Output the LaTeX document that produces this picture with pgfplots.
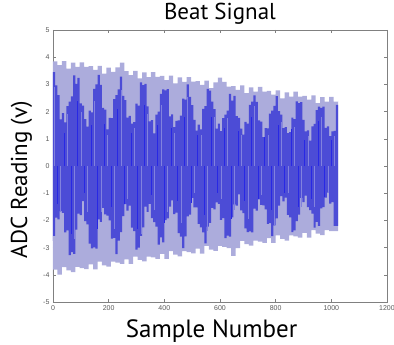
\documentclass[border=0pt]{standalone}
\usepackage{pgfplots}
\pgfplotsset{compat=1.18}
\usepackage{fontspec}
\setmainfont{PT Sans}
\newfontfamily\tickfont{Liberation Sans}
\definecolor{envlight}{RGB}{172,172,220}
\definecolor{sigdark}{RGB}{76,76,214}
\definecolor{stripelight}{RGB}{130,130,222}
\definecolor{stripebright}{RGB}{40,40,228}
\definecolor{framegray}{RGB}{128,128,128}
\begin{document}
\begin{tikzpicture}
\begin{axis}[
  name=ax,
  scale only axis,
  width=334pt, height=272pt,
  xmin=0, xmax=1200, ymin=-5, ymax=5,
  xtick={0,200,400,600,800,1000,1200},
  ytick={-5,-4,-3,-2,-1,0,1,2,3,4,5},
  scaled y ticks=false,
  tick align=inside,
  xtick pos=both, ytick pos=both,
  major tick length=3pt,
  tick style={framegray, line width=0.6pt},
  axis line style={framegray, line width=0.8pt},
  /pgf/number format/assume math mode=true,
  /pgf/number format/1000 sep={},
  ticklabel style={font=\tickfont\fontsize{7}{8}\selectfont, text=black!65},
  title={Beat Signal},
  title style={at={(axis description cs:0.5,1)}, anchor=base, yshift=4pt, font=\fontsize{23}{26}\selectfont},
  xlabel={Sample Number},
  xlabel style={at={(axis description cs:0.475,0)}, anchor=base, yshift=-35pt, font=\fontsize{25}{28}\selectfont},
  ylabel={ADC Reading (v)},
  ylabel style={at={(axis description cs:-0.0778,0.45)}, anchor=base, font=\fontsize{23}{26}\selectfont},
]
% light envelope: upper edge, then lower edge (reversed)
\addplot[const plot, fill=envlight, draw=none] coordinates {
(0,3.85)(16,3.71)(32,3.86)(48,3.58)(64,3.80)(80,3.64)(96,3.81)(112,3.64)(128,3.67)(144,3.53)(160,3.68)(176,3.40)(192,3.62)(208,3.46)(224,3.63)(240,3.80)(256,3.49)(272,3.34)(288,3.50)(304,3.22)(320,3.44)(336,3.27)(352,3.45)(368,3.28)(384,3.31)(400,3.16)(416,3.32)(432,3.04)(448,3.26)(464,3.09)(480,3.27)(496,3.10)(512,3.12)(528,2.98)(544,3.14)(560,2.86)(576,3.07)(592,3.25)(608,3.09)(624,2.92)(640,2.94)(656,2.80)(672,2.96)(688,2.68)(704,2.89)(720,2.73)(736,2.91)(752,2.73)(768,2.76)(784,2.62)(800,2.78)(816,2.49)(832,2.71)(848,2.55)(864,2.73)(880,2.55)(896,2.58)(912,2.44)(928,2.60)(944,2.31)(960,2.53)(976,2.37)(992,2.54)(1008,2.37)(1024,2.40)
(1024,-2.39)(1008,-2.39)(992,-2.36)(976,-2.54)(960,-2.49)(944,-2.36)(928,-2.63)(912,-2.46)(896,-2.63)(880,-2.59)(864,-2.55)(848,-2.74)(832,-2.68)(816,-2.55)(800,-2.83)(784,-2.65)(768,-2.83)(752,-2.78)(736,-2.74)(720,-2.93)(704,-2.87)(688,-2.75)(672,-3.02)(656,-3.30)(640,-3.02)(624,-2.97)(608,-2.94)(592,-3.12)(576,-3.07)(560,-2.94)(544,-3.22)(528,-3.04)(512,-3.21)(496,-3.17)(480,-3.13)(464,-3.32)(448,-3.26)(432,-3.13)(416,-3.41)(400,-3.23)(384,-3.41)(368,-3.36)(352,-3.33)(336,-3.51)(320,-3.45)(304,-3.33)(288,-3.60)(272,-3.43)(256,-3.60)(240,-3.55)(224,-3.52)(208,-3.70)(192,-3.65)(176,-3.52)(160,-3.80)(144,-3.62)(128,-3.79)(112,-3.75)(96,-3.71)(80,-3.90)(64,-3.84)(48,-3.72)(32,-3.99)(16,-3.81)(0,-3.99)
};
% dark beat pattern: upper edge, then lower edge (reversed)
\addplot[const plot, fill=sigdark, draw=none] coordinates {
(0,3.45)(8,2.96)(16,2.61)(24,1.71)(32,1.94)(40,1.60)(48,2.20)(56,2.37)(64,2.56)(72,3.33)(80,3.02)(88,3.24)(96,2.30)(104,2.22)(112,1.72)(120,1.45)(128,2.04)(136,1.97)(144,2.84)(152,3.00)(160,3.35)(168,2.98)(176,2.14)(184,2.07)(192,1.35)(200,1.77)(208,1.76)(216,2.46)(224,2.61)(232,2.82)(240,3.29)(248,2.58)(256,2.42)(264,1.78)(272,1.84)(280,1.56)(288,1.61)(296,2.29)(304,2.22)(312,3.07)(320,2.97)(328,3.02)(336,2.19)(344,1.64)(352,1.69)(360,1.20)(368,1.89)(376,2.00)(384,2.65)(392,2.82)(400,2.78)(408,2.83)(416,1.82)(424,1.90)(432,1.43)(440,1.66)(448,1.68)(456,1.85)(464,2.48)(472,2.44)(480,3.00)(488,2.54)(496,2.24)(504,1.70)(512,1.30)(520,1.52)(528,1.35)(536,2.10)(544,2.20)(552,2.84)(560,2.77)(568,2.37)(576,2.09)(584,1.37)(592,1.56)(600,1.28)(608,1.76)(616,1.89)(624,2.04)(632,2.65)(640,2.40)(648,2.58)(656,1.83)(664,1.77)(672,1.37)(680,1.15)(688,1.62)(696,1.56)(704,2.25)(712,2.37)(720,2.60)(728,2.36)(736,1.68)(744,1.63)(752,1.06)(760,1.39)(768,1.38)(776,1.93)(784,2.04)(792,2.21)(800,2.57)(808,2.02)(816,1.89)(824,1.39)(832,1.43)(840,1.21)(848,1.25)(856,1.78)(864,1.72)(872,2.38)(880,2.31)(888,2.35)(896,1.70)(904,1.27)(912,1.31)(920,0.93)(928,1.46)(936,1.55)(944,2.05)(952,2.18)(960,2.14)(968,2.18)(976,1.40)(984,1.46)(992,1.10)(1000,1.27)(1008,1.29)(1016,2.25)(1024,2.25)
(1024,-2.20)(1016,-2.20)(1008,-1.33)(1000,-1.38)(992,-0.98)(984,-1.16)(976,-1.51)(968,-1.56)(960,-2.20)(952,-2.05)(944,-2.27)(936,-1.75)(928,-1.62)(920,-1.51)(912,-1.09)(904,-1.33)(896,-1.17)(888,-1.79)(880,-2.03)(872,-2.37)(864,-2.43)(856,-1.89)(848,-1.80)(840,-1.16)(832,-1.30)(824,-1.11)(816,-1.46)(808,-1.93)(800,-2.18)(792,-2.58)(784,-2.10)(776,-2.13)(768,-1.59)(760,-1.45)(752,-1.43)(744,-1.23)(736,-1.64)(728,-1.57)(720,-2.44)(712,-2.40)(704,-2.43)(696,-2.29)(688,-1.73)(680,-1.63)(672,-1.04)(664,-1.46)(656,-1.41)(648,-1.89)(640,-2.60)(632,-2.56)(624,-2.65)(616,-1.92)(608,-1.98)(600,-1.39)(592,-1.34)(584,-1.59)(576,-1.54)(568,-2.09)(560,-2.23)(552,-2.84)(544,-2.44)(536,-2.26)(528,-2.13)(520,-1.52)(512,-1.52)(504,-1.17)(496,-1.79)(488,-1.85)(480,-2.59)(472,-3.02)(464,-2.60)(456,-2.47)(448,-1.71)(440,-1.77)(432,-1.26)(424,-1.49)(416,-1.93)(408,-1.99)(400,-2.81)(392,-2.62)(384,-2.89)(376,-2.23)(368,-2.06)(360,-1.92)(352,-1.39)(344,-1.69)(336,-1.49)(328,-2.26)(320,-2.57)(312,-3.00)(304,-3.07)(296,-2.39)(288,-2.27)(280,-1.46)(272,-1.64)(264,-1.40)(256,-1.84)(248,-2.43)(240,-2.74)(232,-3.24)(224,-2.64)(216,-2.67)(208,-2.00)(200,-1.82)(192,-1.78)(184,-1.54)(176,-2.05)(168,-1.96)(160,-3.04)(152,-2.99)(144,-3.03)(136,-2.85)(128,-2.15)(120,-2.03)(112,-1.29)(104,-1.81)(96,-1.75)(88,-2.34)(80,-3.23)(72,-3.17)(64,-3.28)(56,-2.37)(48,-2.44)(40,-1.72)(32,-1.66)(24,-1.96)(16,-1.90)(8,-2.57)(0,-2.75)
};
% lighter vertical streaks inside the dark band
\addplot[ycomb, no marks, stripelight, line width=0.6pt] coordinates {
(4,2.9)(28,-1.7)(52,1.9)(76,-2.7)(100,2.0)(124,-1.7)(148,2.4)(172,-1.7)(196,1.15)(220,-2.3)(244,2.8)(268,-1.2)(292,1.4)(316,-2.5)(340,1.9)(364,-1.6)(388,2.25)(412,-1.7)(436,1.2)(460,-2.1)(484,2.55)(508,-1.0)(532,1.15)(556,-2.4)(580,1.8)(604,-1.2)(628,1.75)(652,-1.6)(676,1.15)(700,-1.95)(724,2.2)(748,-1.05)(772,1.15)(796,-2.2)(820,1.6)(844,-1.0)(868,1.45)(892,-1.5)(916,1.1)(940,-1.5)(964,1.8)(988,-1.0)(1012,1.1)
};
% bright blue vertical streaks inside the dark band
\addplot[ycomb, no marks, stripebright, line width=0.6pt] coordinates {
(16,-1.4)(40,1.2)(64,-2.5)(88,2.4)(112,-1.0)(136,1.5)(160,-2.3)(184,1.55)(208,-1.5)(232,2.1)(256,-1.4)(280,1.2)(304,-2.3)(328,2.25)(352,-1.05)(376,1.5)(400,-2.1)(424,1.4)(448,-1.3)(472,1.8)(496,-1.35)(520,1.15)(544,-1.8)(568,1.8)(592,-1.0)(616,1.4)(640,-1.95)(664,1.3)(688,-1.3)(712,1.8)(736,-1.2)(760,1.05)(784,-1.6)(808,1.5)(832,-1.0)(856,1.35)(880,-1.5)(904,0.95)(928,-1.2)(952,1.65)(976,-1.15)(1000,0.95)
};
\node[anchor=south west, inner sep=1pt, text=black!65, font=\tickfont\fontsize{6}{7}\selectfont] at (rel axis cs:0,1) {x 10\textsuperscript{-4}};
\end{axis}
\pgfresetboundingbox
\path[use as bounding box] ([shift={(-53pt,-42pt)}]ax.south west) rectangle ([shift={(7pt,30pt)}]ax.north east);
\end{tikzpicture}
\end{document}
